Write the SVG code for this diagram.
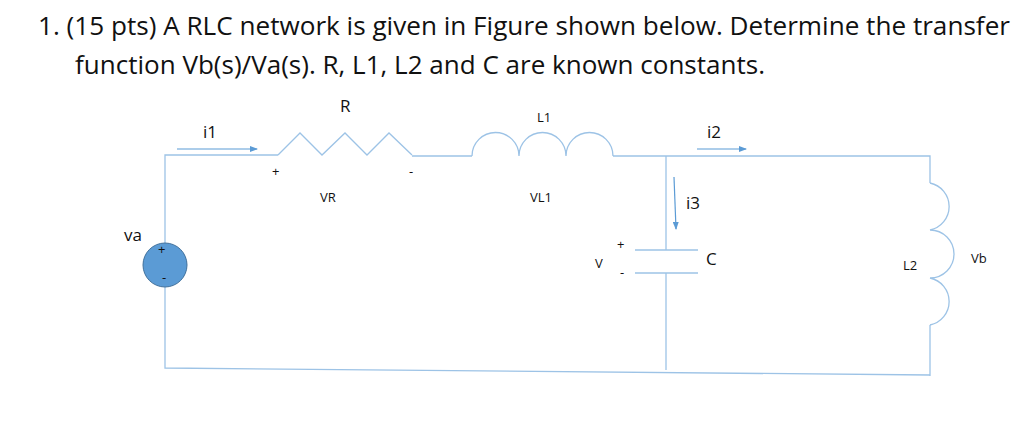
<svg xmlns="http://www.w3.org/2000/svg" width="1024" height="428" viewBox="0 0 1024 428">
<defs>
<marker id="ah" markerWidth="8" markerHeight="6" refX="7" refY="3" orient="auto" markerUnits="userSpaceOnUse"><path d="M0,0 L8,3 L0,6 z" fill="#5b9bd5"/></marker>
</defs>
<style>
.w{fill:none;stroke:#9dc3e6;stroke-width:1.3}
.a{fill:none;stroke:#5b9bd5;stroke-width:1.2}
text{font-family:"Open Sans","Liberation Sans",sans-serif;fill:#111}
.t{font-size:25px}
.l{font-size:17px}
.s{font-size:13px}
</style>
<rect width="1024" height="428" fill="#fff"/>
<text class="t" x="38" y="35" textLength="972" lengthAdjust="spacingAndGlyphs">1.  (15 pts) A RLC network is given in Figure shown below. Determine the transfer</text>
<text class="t" x="75" y="74" textLength="690" lengthAdjust="spacingAndGlyphs">function Vb(s)/Va(s). R, L1, L2 and C are known constants.</text>
<g id="connectors">
<path class="w" d="M165,243 V155 H278"/>
<path class="w" d="M165,287 V368 L930,375"/>
<path class="w" d="M412,156 H472"/>
<path class="w" d="M613,156 H930 V183"/>
<path class="w" d="M930,325 V376"/>
<path class="w" d="M666,156 V250"/>
<path class="w" d="M666,273 V370"/>
<path class="a" d="M177,149 H257" marker-end="url(#ah)"/>
<path class="a" d="M697,149 H746" marker-end="url(#ah)"/>
<path class="a" d="M674,177 L676,229" marker-end="url(#ah)"/>
</g>
<g id="va"><circle cx="165" cy="265" r="22" fill="#5b9bd5" stroke="#41719c" stroke-width="1"/><text class="s" x="158" y="254">+</text><text class="s" x="162" y="282">-</text><text class="l" x="124" y="241">va</text></g>
<g id="R"><path class="w" d="M278,155 L300,133 L322,155 L345,133 L367,155 L389,133 L412,155"/><text class="l" x="340" y="112">R</text><text class="s" x="272" y="176">+</text><text class="s" x="409" y="176">-</text><text class="s" x="320" y="202">VR</text></g>
<g id="L1"><path class="w" d="M472,156 A23,23 0 0 1 519,156 A23,23 0 0 1 566,156 A23,23 0 0 1 613,156"/><text class="s" x="537" y="122">L1</text><text class="s" x="530" y="202">VL1</text></g>
<g id="C"><path class="w" d="M635,250 H698 M635,273 H698"/><text class="l" x="706" y="265">C</text><text class="s" x="617" y="249">+</text><text class="s" x="620" y="277">-</text><text class="s" x="595" y="268">V</text><text class="l" x="686" y="209">i3</text></g>
<g id="L2"><path class="w" d="M930,183 A24,24 0 0 1 930,230 A24,24 0 0 1 930,278 A24,24 0 0 1 930,325"/><text class="s" x="903" y="270">L2</text><text class="s" x="971" y="263">Vb</text></g>
<text class="l" x="203" y="138">i1</text>
<text class="l" x="707" y="138">i2</text>
</svg>
